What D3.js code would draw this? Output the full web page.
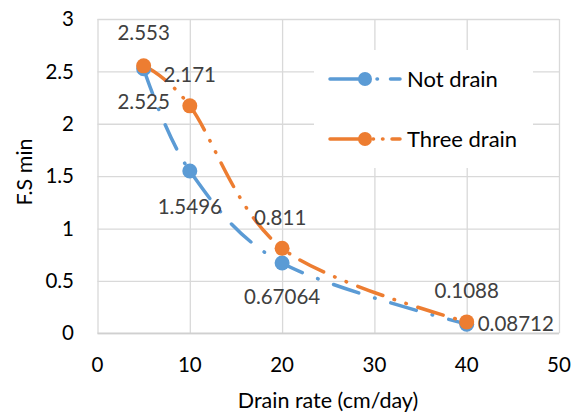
<!DOCTYPE html>
<html><head><meta charset="utf-8">
<script src="https://cdn.jsdelivr.net/npm/d3@7"></script>
<style>body{margin:0;background:#fff}svg{display:block}</style>
</head><body>
<svg id="c" width="571" height="412"></svg>
<script>
const drainRate = [5, 10, 20, 40];
const notDrain = [2.525, 1.5496, 0.67064, 0.08712];
const threeDrain = [2.553, 2.171, 0.811, 0.1088];
const notDrainLabels = ["2.525", "1.5496", "0.67064", "0.08712"];
const threeDrainLabels = ["2.553", "2.171", "0.811", "0.1088"];
const xTicks = [0, 10, 20, 30, 40, 50];
const yTicks = [0, 0.5, 1, 1.5, 2, 2.5, 3];
const seriesNames = ["Not drain", "Three drain"];

const svg = d3.select("#c");
const font = "Lato, 'Open Sans', sans-serif";
const x = d3.scaleLinear().domain([0, 50]).range([97.5, 559]);
const y = d3.scaleLinear().domain([0, 3]).range([333.3, 19]);

// gridlines
const g = svg.append("g");
g.append("g").attr("transform", "translate(97.5,0)")
  .call(d3.axisLeft(y).tickValues(yTicks).tickSize(-(559 - 97.5)).tickFormat(""))
  .call(s => { s.select(".domain").remove(); s.selectAll("line").attr("stroke", "#d9d9d9").attr("stroke-width", 1.3); });
g.append("g").attr("transform", "translate(0,333.3)")
  .call(d3.axisBottom(x).tickValues(xTicks).tickSize(-(333.3 - 19)).tickFormat(""))
  .call(s => { s.select(".domain").remove(); s.selectAll("line").attr("stroke", "#d9d9d9").attr("stroke-width", 1.3); });
svg.append("line").attr("x1", x(0)).attr("x2", x(50)).attr("y1", y(0)).attr("y2", y(0))
  .attr("stroke", "#d0d0d0").attr("stroke-width", 1.5);

// tick labels
svg.append("g").selectAll("text").data(yTicks).join("text")
  .attr("x", 74).attr("y", d => y(d)).attr("dy", "0.35em").attr("text-anchor", "end")
  .attr("font-family", font).attr("font-size", 20.5).attr("fill", "#000").text(d => d3.format("")(d));
svg.append("g").selectAll("text").data(xTicks).join("text")
  .attr("x", d => x(d)).attr("y", 365).attr("dy", "0.35em").attr("text-anchor", "middle")
  .attr("font-family", font).attr("font-size", 20.5).attr("fill", "#000").text(d => d);

// axis titles
svg.append("text").attr("transform", "translate(24,172) rotate(-90)").attr("text-anchor", "middle")
  .attr("dy", "0.35em").attr("font-family", font).attr("font-size", 21.5).attr("fill", "#000").text("F.S min");
svg.append("text").attr("x", 328).attr("y", 408).attr("text-anchor", "middle")
  .attr("font-family", font).attr("font-size", 21.5).attr("fill", "#000").text("Drain rate (cm/day)");

// legend background
svg.append("rect").attr("x", 314).attr("y", 50).attr("width", 219).attr("height", 118).attr("fill", "#fff");

const series = [
  { name: seriesNames[0], vals: notDrain, labels: notDrainLabels, color: "#5b9bd5", dash: "26.5,16.5,0.5,16.5",
    offs: [[0, 33, "middle"], [0, 36, "middle"], [0, 34, "middle"], [11, 0, "start"]] },
  { name: seriesNames[1], vals: threeDrain, labels: threeDrainLabels, color: "#ed7d31", dash: "26.5,12,0.5,12,0.5,12",
    offs: [[0, -33, "middle"], [0, -31, "middle"], [-2, -31, "middle"], [0, -31, "middle"]] }
];

const line = d3.line().x(d => x(d[0])).y(d => y(d[1])).curve(d3.curveCardinal.tension(0));
series.forEach(s => {
  const pts = drainRate.map((d, i) => [d, s.vals[i]]);
  svg.append("path").attr("d", line(pts)).attr("fill", "none").attr("stroke", s.color)
    .attr("stroke-width", 3.5).attr("stroke-linecap", "round").attr("stroke-dasharray", s.dash);
});
series.forEach(s => {
  const pts = drainRate.map((d, i) => [d, s.vals[i]]);
  svg.append("g").selectAll("circle").data(pts).join("circle")
    .attr("cx", d => x(d[0])).attr("cy", d => y(d[1])).attr("r", 7.5).attr("fill", s.color);
});
series.forEach(s => {
  const pts = drainRate.map((d, i) => [d, s.vals[i]]);
  svg.append("g").selectAll("text").data(pts).join("text")
    .attr("x", (d, i) => x(d[0]) + s.offs[i][0]).attr("y", (d, i) => y(d[1]) + s.offs[i][1])
    .attr("dy", "0.35em").attr("text-anchor", (d, i) => s.offs[i][2])
    .attr("font-family", font).attr("font-size", 20.5).attr("fill", "#404040")
    .text((d, i) => s.labels[i]);
});

// legend
series.forEach((s, i) => {
  const ly = 79 + i * 60;
  const lg = svg.append("g");
  lg.append("line").attr("x1", 330).attr("x2", 400).attr("y1", ly).attr("y2", ly)
    .attr("stroke", s.color).attr("stroke-width", 3.5).attr("stroke-linecap", "round")
    .attr("stroke-dasharray", i === 0 ? "34,13,0.5,13" : "34,9,0.5,9,0.5,9");
  lg.append("circle").attr("cx", 365).attr("cy", ly).attr("r", 7).attr("fill", s.color);
  lg.append("text").attr("x", 407).attr("y", ly).attr("dy", "0.35em").attr("font-family", font)
    .attr("font-size", 22).attr("fill", "#000").text(s.name);
});
</script>
</body></html>
